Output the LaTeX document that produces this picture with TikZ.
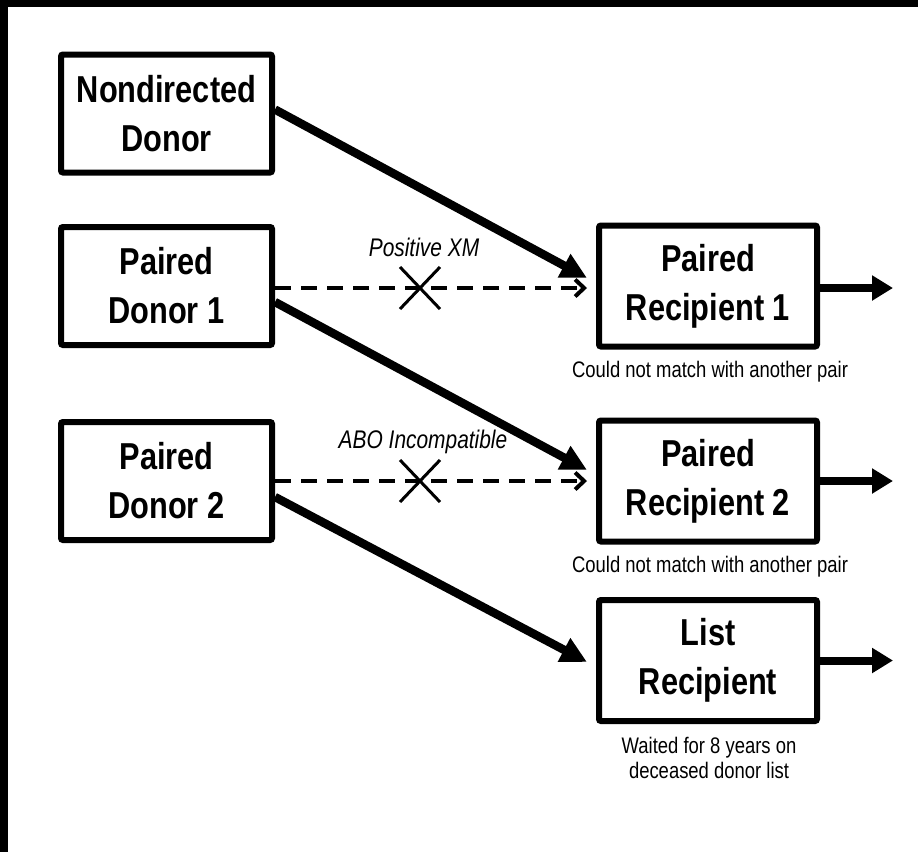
\documentclass[tikz,border=0pt]{standalone}
\usepackage{fontspec}
\setmainfont{Liberation Sans}[FakeStretch=0.82]
\usetikzlibrary{arrows.meta,calc}
\begin{document}
\begin{tikzpicture}[x=1pt,y=-1pt,
  box/.style={draw,line width=6pt,rounded corners=2pt,align=center,
    font=\bfseries\fontsize{37.5}{49}\selectfont,inner sep=0pt},
  donorbox/.style={box,minimum width=211pt,minimum height=118pt},
  recbox/.style={box,minimum width=218pt,minimum height=121pt},
  flow/.style={line width=8.5pt,-{Triangle[length=26pt,width=25pt]}},
  outflow/.style={line width=8pt,-{Triangle[length=21pt,width=24pt]}},
  blocked/.style={line width=4.5pt,dash pattern=on 16pt off 10pt,
    -{Straight Barb[length=9pt,width=17pt,line width=4pt]}},
  crossmark/.style={line width=3pt},
  note/.style={font=\fontsize{22.5}{25}\selectfont,align=center,inner sep=0pt},
  reason/.style={font=\itshape\fontsize{25.5}{28}\selectfont,inner sep=0pt}]
\useasboundingbox (0,0) rectangle (918,852);
\fill[white] (0,0) rectangle (918,852);
\fill[black] (0,0) rectangle (918,7);
\fill[black] (0,0) rectangle (8,852);

\node[donorbox] (nd) at (166.5,113.5) {Nondirected\\Donor};
\node[donorbox] (d1) at (166.5,286) {Paired\\Donor 1};
\node[donorbox] (d2) at (166.5,481) {Paired\\Donor 2};
\node[recbox] (r1) at (708,286) {Paired\\Recipient 1};
\node[recbox] (r2) at (708,481) {Paired\\Recipient 2};
\node[recbox] (lr) at (708,660.5) {List\\Recipient};

\node[note,anchor=base] (n1) at (710,377) {Could not match with another pair};
\node[note,anchor=base] (n2) at (710,572) {Could not match with another pair};
\node[note,anchor=base] (n3) at (709,778) {Waited for 8 years on\\deceased donor list};

\node[reason,anchor=base] (l1) at (424,256) {Positive XM};
\node[reason,anchor=base] (l2) at (423,448) {ABO Incompatible};

\draw[blocked] ($(d1.east)+(0,2)$) -- ($(r1.west)+(-9,2)$);
\draw[blocked] (d2.east) -- ($(r2.west)+(-9,0)$);

\coordinate (x1) at (420,288);
\coordinate (x2) at (420,481);
\draw[crossmark] ($(x1)+(-20,-21)$) -- ($(x1)+(20,21)$) ($(x1)+(-20,21)$) -- ($(x1)+(20,-21)$);
\draw[crossmark] ($(x2)+(-20,-21)$) -- ($(x2)+(20,21)$) ($(x2)+(-20,21)$) -- ($(x2)+(20,-21)$);

\draw[flow] ($(nd.east)+(0,-4)$) -- ($(r1.west)+(-9,-8)$);
\draw[flow] ($(d1.east)+(0,16)$) -- ($(r2.west)+(-9,-11)$);
\draw[flow] ($(d2.east)+(0,16)$) -- ($(lr.west)+(-9,1.5)$);

\coordinate (o1) at (893,288);
\coordinate (o2) at (893,481);
\coordinate (o3) at (893,660.5);
\draw[outflow] ($(r1.east)+(0,2)$) -- (o1);
\draw[outflow] (r2.east) -- (o2);
\draw[outflow] (lr.east) -- (o3);
\end{tikzpicture}
\end{document}
